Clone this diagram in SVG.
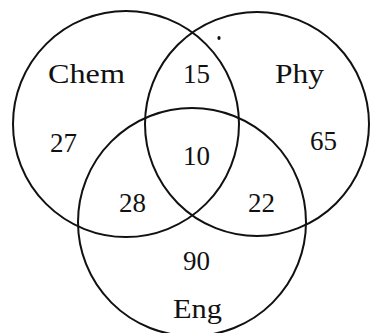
<svg xmlns="http://www.w3.org/2000/svg" width="371" height="333" viewBox="0 0 371 333">
  <style>
    .set { fill: none; stroke: #111; stroke-width: 2; }
    .lbl { font-family: "Liberation Serif", "Times New Roman", serif; font-size: 27px; fill: #111; text-anchor: start; }
  </style>
  <rect width="371" height="333" fill="#fff"/>
  <g id="chem">
    <circle class="set" cx="126" cy="124" r="113"/>
    <text class="lbl" x="48" y="83" textLength="77" lengthAdjust="spacingAndGlyphs">Chem</text>
  </g>
  <g id="phy">
    <circle class="set" cx="257" cy="124" r="112"/>
    <text class="lbl" x="275" y="83" textLength="49" lengthAdjust="spacingAndGlyphs">Phy</text>
  </g>
  <g id="eng">
    <circle class="set" cx="192" cy="222" r="114"/>
    <text class="lbl" x="173" y="318" textLength="49" lengthAdjust="spacingAndGlyphs">Eng</text>
  </g>
  <g id="counts">
    <text class="lbl" x="183" y="83">15</text>
    <text class="lbl" x="50" y="152">27</text>
    <text class="lbl" x="183" y="165">10</text>
    <text class="lbl" x="310" y="150">65</text>
    <text class="lbl" x="119" y="212">28</text>
    <text class="lbl" x="248" y="212">22</text>
    <text class="lbl" x="183" y="270">90</text>
  </g>
  <ellipse cx="219" cy="38" rx="1.6" ry="2" fill="#111"/>
</svg>
